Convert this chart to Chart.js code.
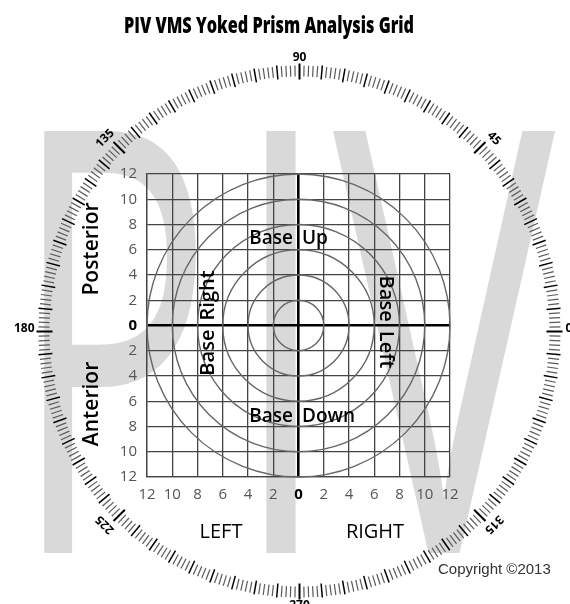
<!DOCTYPE html>
<html>
<head>
<meta charset="utf-8">
<script src="https://cdn.jsdelivr.net/npm/chart.js@4.4.1/dist/chart.umd.min.js"></script>
<style>
  html, body { margin: 0; padding: 0; background: #fff; }
  canvas { display: block; }
</style>
</head>
<body>
<canvas id="prism" width="570" height="604"></canvas>
<script>
// Grid values (prism diopters) and the protractor labels
const tickValues = [-12, -10, -8, -6, -4, -2, 0, 2, 4, 6, 8, 10, 12];
const tickLabels = ["12", "10", "8", "6", "4", "2", "0", "2", "4", "6", "8", "10", "12"];
const ringRadii  = [2, 4, 6, 8, 10, 12];
const dialLabels = [0, 45, 90, 135, 180, 225, 270, 315];
const dialDegrees = 360;

const FONT = "'Open Sans', 'DejaVu Sans', sans-serif";

// big grey "PIV" behind the grid, each letter squeezed into its box
const watermark = [
  { ch: "P", x0: 43,  x1: 200, y0: 128, y1: 553 },
  { ch: "I", x0: 265, x1: 298, y0: 128, y1: 553 },
  { ch: "V", x0: 333, x1: 560, y0: 128, y1: 553 }
];

function fitText(ctx, txt, font, x0, y0, x1, y1) {
  ctx.save();
  ctx.font = font;
  ctx.textAlign = "left";
  ctx.textBaseline = "alphabetic";
  const m = ctx.measureText(txt);
  const w = m.actualBoundingBoxLeft + m.actualBoundingBoxRight;
  const h = m.actualBoundingBoxAscent + m.actualBoundingBoxDescent;
  ctx.translate(x0, y0);
  ctx.scale((x1 - x0) / w, (y1 - y0) / h);
  ctx.fillText(txt, m.actualBoundingBoxLeft, m.actualBoundingBoxAscent);
  ctx.restore();
}

function drawText(ctx, txt, x, y, font, color, align, rot, gap) {
  ctx.save();
  ctx.translate(x, y);
  if (rot) ctx.rotate(rot);
  ctx.font = font;
  ctx.fillStyle = color;
  ctx.textAlign = align || "center";
  ctx.textBaseline = "alphabetic";
  if (gap) ctx.wordSpacing = gap;
  ctx.fillText(txt, 0, 0);
  ctx.restore();
}

const backdrop = {
  id: "backdrop",
  beforeDraw(chart) {
    const ctx = chart.ctx;
    ctx.save();
    ctx.fillStyle = "#fff";
    ctx.fillRect(0, 0, chart.width, chart.height);
    ctx.fillStyle = "#d9d9d9";
    watermark.forEach(w => fitText(ctx, w.ch, "400px " + FONT, w.x0, w.y0, w.x1, w.y1));
    ctx.restore();
  }
};

const rings = {
  id: "rings",
  afterDatasetsDraw(chart) {
    const { ctx, scales: { x, y } } = chart;
    const cx = x.getPixelForValue(0), cy = y.getPixelForValue(0);
    ctx.save();
    ctx.strokeStyle = "#666";
    ctx.lineWidth = 1.4;
    ringRadii.forEach(r => {
      const rp = x.getPixelForValue(r) - cx;
      ctx.beginPath();
      ctx.arc(cx, cy, rp, 0, Math.PI * 2);
      ctx.stroke();
    });
    ctx.restore();
  }
};

const labels = {
  id: "labels",
  afterDraw(chart) {
    const ctx = chart.ctx;
    const semi = "600 19px " + FONT;
    const vert = "600 20px " + FONT;
    const side = "600 21px " + FONT;
    const up = -Math.PI / 2, down = Math.PI / 2;

    // title, condensed to the width of the original
    ctx.save();
    ctx.fillStyle = "#000";
    ctx.font = "800 23px " + FONT;
    const title = "PIV VMS Yoked Prism Analysis Grid";
    const tw = ctx.measureText(title).width;
    ctx.translate(124, 33);
    ctx.scale(290 / tw, 1);
    ctx.textBaseline = "alphabetic";
    ctx.fillText(title, 0, 0);
    ctx.restore();

    drawText(ctx, "Base", 293, 244, semi, "#000", "right");
    drawText(ctx, "Up", 302, 244, semi, "#000", "left");
    drawText(ctx, "Base", 293, 422, semi, "#000", "right");
    drawText(ctx, "Down", 302, 422, semi, "#000", "left");
    drawText(ctx, "Base Right", 214, 323, vert, "#000", "center", up, "4px");
    drawText(ctx, "Base Left", 380, 322, vert, "#000", "center", down, "4px");
    drawText(ctx, "Posterior", 98, 249, side, "#000", "center", up);
    drawText(ctx, "Anterior", 98, 404, side, "#000", "center", up);
    drawText(ctx, "LEFT", 221, 538, "20px " + FONT, "#000", "center");
    drawText(ctx, "RIGHT", 375, 538, "20px " + FONT, "#000", "center");
    drawText(ctx, "Copyright \u00a92013", 438, 574, "15px 'Liberation Sans', Arial, sans-serif", "#333", "left");

    // protractor ring (slightly taller than wide, as in the original)
    const cx = chart.scales.x.getPixelForValue(0) + 1;
    const cy = chart.scales.y.getPixelForValue(0) + 6;
    ctx.save();
    for (let d = 0; d < dialDegrees; d++) {
      const a = d * Math.PI / 180;
      const c = Math.cos(a), s = Math.sin(a);
      let rIn = 250, rOut = 261, col = "#5a5a5a", lw = 1.2;
      if (d % 45 === 0) { rIn = 247; rOut = 263; col = "#000"; lw = 2; }
      else if (d % 5 === 0) { rIn = 248; rOut = 262; col = "#000"; lw = 1.5; }
      ctx.beginPath();
      ctx.strokeStyle = col;
      ctx.lineWidth = lw;
      ctx.moveTo(cx + c * rIn, cy - s * (rIn + 5));
      ctx.lineTo(cx + c * rOut, cy - s * (rOut + 5));
      ctx.stroke();
    }
    ctx.restore();

    const dialFont = "bold 12px " + FONT;
    dialLabels.forEach(deg => {
      const a = deg * Math.PI / 180;
      const c = Math.cos(a), s = Math.sin(a);
      ctx.save();
      ctx.font = dialFont;
      ctx.fillStyle = "#000";
      ctx.textBaseline = "middle";
      if (deg === 0) {
        ctx.textAlign = "left";
        ctx.fillText(String(deg), cx + 266, cy - 3);
      } else if (deg === 180) {
        ctx.textAlign = "right";
        ctx.fillText(String(deg), cx - 265, cy - 3);
      } else if (deg === 90 || deg === 270) {
        ctx.textAlign = "center";
        ctx.fillText(String(deg), cx, cy - s * 274);
      } else {
        ctx.translate(cx + c * 275, cy - s * 273);
        ctx.rotate(Math.PI / 2 - a);
        ctx.textAlign = "center";
        ctx.fillText(String(deg), 0, 0);
      }
      ctx.restore();
    });
  }
};

const axisTicks = {
  font: c => (c.tick && c.tick.value === 0)
    ? { family: FONT, size: 15, weight: "bold" }
    : { family: FONT, size: 15, weight: "normal" },
  color: c => (c.tick && c.tick.value === 0) ? "#000" : "#555",
  callback: (v, i) => tickLabels[i],
  autoSkip: false,
  maxRotation: 0
};

const axisGrid = {
  color: c => (c.tick && c.tick.value === 0) ? "#000" : "#444",
  lineWidth: c => (c.tick && c.tick.value === 0) ? 2.6 : 1.3,
  drawTicks: false
};

new Chart(document.getElementById("prism"), {
  type: "scatter",
  data: { datasets: [{ data: [] }] },
  options: {
    responsive: false,
    animation: false,
    layout: { padding: { left: 107, right: 120, top: 174, bottom: 97 } },
    plugins: { legend: { display: false }, tooltip: { enabled: false } },
    scales: {
      x: {
        type: "linear", min: -12, max: 12,
        afterBuildTicks: s => { s.ticks = tickValues.map(v => ({ value: v })); },
        afterFit: s => { s.height = 30; },
        ticks: { ...axisTicks, padding: 9 },
        grid: axisGrid,
        border: { color: "#444", width: 1.3 }
      },
      y: {
        type: "linear", min: -12, max: 12,
        afterBuildTicks: s => { s.ticks = tickValues.map(v => ({ value: v })); },
        afterFit: s => { s.width = 40; },
        ticks: { ...axisTicks, padding: 10 },
        grid: axisGrid,
        border: { color: "#444", width: 1.3 }
      }
    }
  },
  plugins: [backdrop, rings, labels]
});
</script>
</body>
</html>
